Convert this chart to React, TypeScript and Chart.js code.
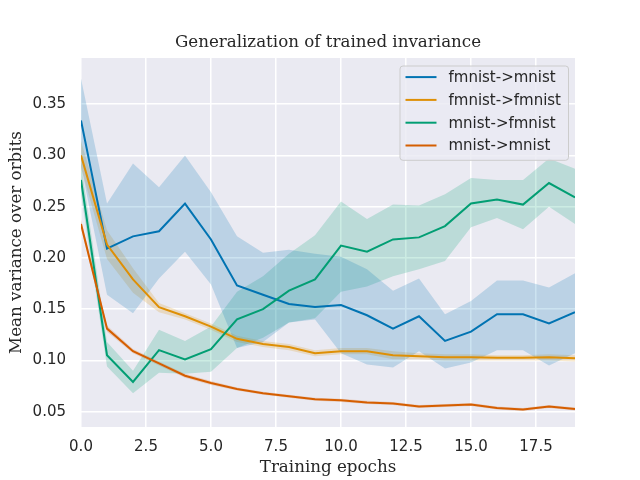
import React, { useEffect, useRef } from 'react';
import { Chart, registerables } from 'chart.js';

Chart.register(...registerables);

// epochs on the x axis
const epochs = [0, 1, 2, 3, 4, 5, 6, 7, 8, 9, 10, 11, 12, 13, 14, 15, 16, 17, 18, 19];

// fmnist -> mnist
const fmnistMnistMean = [0.334, 0.209, 0.221, 0.226, 0.253, 0.218, 0.173, 0.164, 0.155, 0.152, 0.154, 0.144, 0.131, 0.143, 0.119, 0.128, 0.145, 0.145, 0.136, 0.147];
const fmnistMnistLow = [0.29, 0.164, 0.146, 0.18, 0.206, 0.174, 0.112, 0.118, 0.137, 0.14, 0.107, 0.096, 0.093, 0.109, 0.092, 0.098, 0.11, 0.11, 0.095, 0.107];
const fmnistMnistHigh = [0.375, 0.253, 0.292, 0.269, 0.3, 0.264, 0.221, 0.205, 0.208, 0.204, 0.201, 0.189, 0.168, 0.18, 0.145, 0.158, 0.178, 0.178, 0.171, 0.185];

// fmnist -> fmnist
const fmnistFmnistMean = [0.3, 0.213, 0.179, 0.152, 0.143, 0.133, 0.121, 0.116, 0.113, 0.107, 0.109, 0.109, 0.105, 0.104, 0.103, 0.103, 0.1026, 0.1026, 0.103, 0.102];
const fmnistFmnistLow = [0.288, 0.199, 0.166, 0.147, 0.14, 0.13, 0.118, 0.113, 0.11, 0.104, 0.106, 0.106, 0.101, 0.101, 0.1, 0.1, 0.1, 0.1, 0.1, 0.099];
const fmnistFmnistHigh = [0.314, 0.227, 0.19, 0.156, 0.146, 0.136, 0.124, 0.119, 0.116, 0.11, 0.112, 0.112, 0.109, 0.107, 0.106, 0.106, 0.105, 0.105, 0.106, 0.105];

// mnist -> fmnist
const mnistFmnistMean = [0.276, 0.105, 0.079, 0.11, 0.101, 0.111, 0.14, 0.15, 0.168, 0.179, 0.212, 0.206, 0.218, 0.22, 0.231, 0.253, 0.257, 0.252, 0.273, 0.259];
const mnistFmnistLow = [0.262, 0.094, 0.068, 0.088, 0.087, 0.089, 0.112, 0.122, 0.137, 0.141, 0.167, 0.172, 0.182, 0.189, 0.197, 0.23, 0.239, 0.228, 0.25, 0.233];
const mnistFmnistHigh = [0.292, 0.118, 0.09, 0.13, 0.119, 0.133, 0.167, 0.182, 0.204, 0.222, 0.255, 0.238, 0.252, 0.251, 0.262, 0.278, 0.276, 0.276, 0.297, 0.287];

// mnist -> mnist
const mnistMnistMean = [0.233, 0.131, 0.109, 0.097, 0.085, 0.078, 0.072, 0.068, 0.065, 0.062, 0.061, 0.059, 0.058, 0.055, 0.056, 0.057, 0.0535, 0.052, 0.055, 0.0525];
const mnistMnistLow = [0.229, 0.128, 0.107, 0.095, 0.083, 0.076, 0.0705, 0.0665, 0.0635, 0.0605, 0.0595, 0.0575, 0.0565, 0.0535, 0.0545, 0.0555, 0.052, 0.0505, 0.0535, 0.051];
const mnistMnistHigh = [0.237, 0.134, 0.111, 0.099, 0.087, 0.08, 0.0735, 0.0695, 0.0665, 0.0635, 0.0625, 0.0605, 0.0595, 0.0565, 0.0575, 0.0585, 0.055, 0.0535, 0.0565, 0.054];

const seriesLabels = ['fmnist->mnist', 'fmnist->fmnist', 'mnist->fmnist', 'mnist->mnist'];
const seriesColors = ['#0173b2', '#de8f05', '#029e73', '#d55e00'];
const bandColors = ['rgba(1,115,178,0.2)', 'rgba(222,143,5,0.2)', 'rgba(2,158,115,0.2)', 'rgba(213,94,0,0.2)'];

const xTicks = [0, 2.5, 5, 7.5, 10, 12.5, 15, 17.5];
const yTicks = [0.05, 0.1, 0.15, 0.2, 0.25, 0.3, 0.35];

const chartTitle = 'Generalization of trained invariance';

const series = [
    { mean: fmnistMnistMean, low: fmnistMnistLow, high: fmnistMnistHigh },
    { mean: fmnistFmnistMean, low: fmnistFmnistLow, high: fmnistFmnistHigh },
    { mean: mnistFmnistMean, low: mnistFmnistLow, high: mnistFmnistHigh },
    { mean: mnistMnistMean, low: mnistMnistLow, high: mnistMnistHigh },
];

const TEXT = '#262626';
const SANS = '"DejaVu Sans", sans-serif';
const SERIF = '"DejaVu Serif", serif';

const toPoints = (ys: number[]) => epochs.map((x, i) => ({ x, y: ys[i] }));

const plotBackground = {
    id: 'plotBackground',
    beforeDraw(chart: any) {
        const { ctx, chartArea } = chart;
        ctx.save();
        ctx.fillStyle = '#eaeaf2';
        ctx.fillRect(chartArea.left, chartArea.top, chartArea.right - chartArea.left, chartArea.bottom - chartArea.top);
        ctx.restore();
    },
};

// title centred over the plot area, as matplotlib does
const axesTitle = {
    id: 'axesTitle',
    afterDraw(chart: any) {
        const { ctx, chartArea } = chart;
        ctx.save();
        ctx.font = '16.7px ' + SERIF;
        ctx.fillStyle = TEXT;
        ctx.textAlign = 'center';
        ctx.textBaseline = 'middle';
        ctx.fillText(chartTitle, (chartArea.left + chartArea.right) / 2, chartArea.top - 15);
        ctx.restore();
    },
};

// legend drawn inside the plot, upper right
const insideLegend = {
    id: 'insideLegend',
    afterDraw(chart: any) {
        const { ctx, chartArea } = chart;
        const items = chart.data.datasets.filter((d: any) => d.label);
        ctx.save();
        ctx.font = '15px ' + SANS;
        const textW = Math.max(...items.map((d: any) => ctx.measureText(d.label).width));
        const rowH = 22.8;
        const w = 6 + 31 + 12 + textW + 7;
        const h = 11.6 + (items.length - 1) * rowH + 14.3;
        const right = chartArea.right - 7;
        const top = chartArea.top + 7.5;
        const left = right - w;
        ctx.beginPath();
        ctx.roundRect(left + 0.5, top + 0.5, w, h, 3);
        ctx.fillStyle = 'rgba(234,234,242,0.8)';
        ctx.fill();
        ctx.strokeStyle = '#cccccc';
        ctx.lineWidth = 1;
        ctx.stroke();
        items.forEach((d: any, i: number) => {
            const y = top + 11.6 + i * rowH;
            ctx.beginPath();
            ctx.moveTo(left + 6, y);
            ctx.lineTo(left + 37, y);
            ctx.strokeStyle = d.borderColor;
            ctx.lineWidth = 2;
            ctx.stroke();
            ctx.fillStyle = TEXT;
            ctx.textBaseline = 'middle';
            ctx.textAlign = 'left';
            ctx.fillText(d.label, left + 49, y + 1);
        });
        ctx.restore();
    },
};

const App: React.FC = () => {
    const canvasRef = useRef<HTMLCanvasElement>(null);
    const chartRef = useRef<Chart | null>(null);

    useEffect(() => {
        document.body.style.margin = '0';
        if (chartRef.current) chartRef.current.destroy();
        if (!canvasRef.current) return;

        const datasets: any[] = [];
        series.forEach((s, i) => {
            datasets.push({
                label: '',
                data: toPoints(s.low),
                borderWidth: 0,
                pointRadius: 0,
                fill: false,
            });
            datasets.push({
                label: '',
                data: toPoints(s.high),
                borderWidth: 0,
                pointRadius: 0,
                backgroundColor: bandColors[i],
                fill: '-1',
            });
        });
        series.forEach((s, i) => {
            datasets.push({
                label: seriesLabels[i],
                data: toPoints(s.mean),
                borderColor: seriesColors[i],
                borderWidth: 2,
                pointRadius: 0,
                fill: false,
                order: 10 - i,
            });
        });

        chartRef.current = new Chart(canvasRef.current, {
            type: 'line',
            data: { datasets },
            options: {
                animation: false,
                responsive: false,
                devicePixelRatio: 1,
                layout: { padding: { left: 0, right: 65, top: 58, bottom: 0 } },
                plugins: {
                    legend: { display: false },
                    tooltip: { enabled: false },
                    title: { display: false },
                    filler: { drawTime: 'beforeDatasetsDraw' },
                },
                scales: {
                    x: {
                        type: 'linear',
                        min: 0,
                        max: 19,
                        afterBuildTicks: (s: any) => { s.ticks = xTicks.map((v) => ({ value: v })); },
                        afterFit: (s: any) => { s.height = 53; },
                        grid: { color: '#ffffff', lineWidth: 1.5, drawTicks: false },
                        border: { display: false },
                        ticks: {
                            padding: 11,
                            color: TEXT,
                            font: { family: SANS, size: 15 },
                            callback: (v: any) => Number(v).toFixed(1),
                        },
                        title: {
                            display: true,
                            text: 'Training epochs',
                            color: TEXT,
                            font: { family: SERIF, size: 16.7 },
                            padding: { top: 0, bottom: 2 },
                        },
                    },
                    y: {
                        type: 'linear',
                        min: 0.035,
                        max: 0.395,
                        afterBuildTicks: (s: any) => { s.ticks = yTicks.map((v) => ({ value: v })); },
                        afterFit: (s: any) => { s.width = 81; },
                        grid: { color: '#ffffff', lineWidth: 1.5, drawTicks: false },
                        border: { display: false },
                        ticks: {
                            padding: 15,
                            color: TEXT,
                            font: { family: SANS, size: 15 },
                            callback: (v: any) => Number(v).toFixed(2),
                        },
                        title: {
                            display: true,
                            text: 'Mean variance over orbits',
                            color: TEXT,
                            font: { family: SERIF, size: 16.7 },
                            padding: { top: 7, bottom: 0 },
                        },
                    },
                },
            },
            plugins: [plotBackground, axesTitle, insideLegend],
        } as any);

        return () => { if (chartRef.current) chartRef.current.destroy(); };
    }, []);

    return <canvas ref={canvasRef} width={640} height={480} style={{ display: 'block' }}></canvas>;
};

export default App;
